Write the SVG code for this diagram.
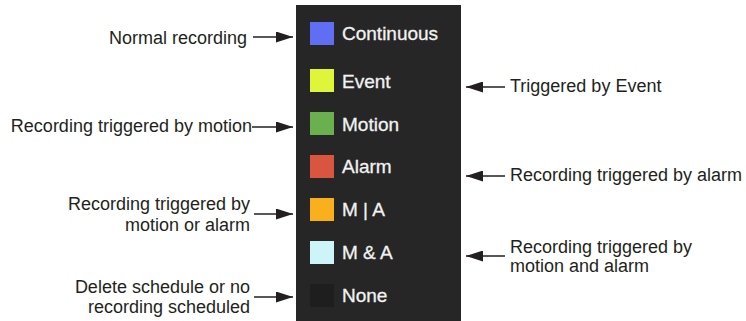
<svg xmlns="http://www.w3.org/2000/svg" width="746" height="321" viewBox="0 0 746 321">
<style>
.lbl{font-family:"Liberation Sans",Arial,sans-serif;font-size:18px;fill:#231f20}
.end{text-anchor:end}
.leg{font-family:"Liberation Sans",Arial,sans-serif;font-size:19px;fill:#f2f2f2;stroke:#f2f2f2;stroke-width:0.3}
.conn line{stroke:#231f20;stroke-width:1.5;marker-end:url(#ah)}
</style>
<defs>
<marker id="ah" markerUnits="userSpaceOnUse" markerWidth="17" markerHeight="11" refX="17" refY="5.5" orient="auto">
<path d="M0,0 L17,5.5 L0,11 Z" fill="#231f20"/>
</marker>
</defs>
<rect x="0" y="0" width="746" height="321" fill="#ffffff"/>
<g id="panel">
<rect x="296" y="5" width="165" height="316" fill="#262626"/>
</g>
<g id="continuous"><rect x="310" y="22" width="24" height="23" fill="#5f6ef2"/><text class="leg" x="342" y="40">Continuous</text></g>
<g id="event"><rect x="310" y="69" width="24" height="23" fill="#dff53a"/><text class="leg" x="342" y="88">Event</text></g>
<g id="motion"><rect x="310" y="112" width="24" height="23" fill="#6ab04e"/><text class="leg" x="342" y="131">Motion</text></g>
<g id="alarm"><rect x="310" y="155" width="24" height="23" fill="#d9553f"/><text class="leg" x="342" y="173">Alarm</text></g>
<g id="m-or-a"><rect x="310" y="198" width="24" height="23" fill="#f9b01c"/><text class="leg" x="342" y="216">M | A</text></g>
<g id="m-and-a"><rect x="310" y="241" width="24" height="23" fill="#cdf4f9"/><text class="leg" x="342" y="259">M &amp; A</text></g>
<g id="none"><rect x="310" y="284" width="24" height="23" fill="#1e1e1e"/><text class="leg" x="342" y="302">None</text></g>
<g id="lbl-normal"><text class="lbl end" x="247" y="44">Normal recording</text></g>
<g id="lbl-motion"><text class="lbl end" x="252" y="132">Recording triggered by motion</text></g>
<g id="lbl-mora"><text class="lbl end" x="250" y="210">Recording triggered by</text><text class="lbl end" x="250" y="231">motion or alarm</text></g>
<g id="lbl-none"><text class="lbl end" x="250" y="293">Delete schedule or no</text><text class="lbl end" x="250" y="313">recording scheduled</text></g>
<g id="lbl-event"><text class="lbl" x="510" y="92">Triggered by Event</text></g>
<g id="lbl-alarm"><text class="lbl" x="510" y="181">Recording triggered by alarm</text></g>
<g id="lbl-manda"><text class="lbl" x="510" y="253">Recording triggered by</text><text class="lbl" x="510" y="272">motion and alarm</text></g>
<g id="connectors" class="conn">
<line x1="253" y1="37" x2="293" y2="37"/>
<line x1="252" y1="127" x2="293" y2="127"/>
<line x1="254" y1="214" x2="293" y2="214"/>
<line x1="254" y1="297" x2="293" y2="297"/>
<line x1="505" y1="87" x2="466" y2="87"/>
<line x1="505" y1="176" x2="466" y2="176"/>
<line x1="505" y1="256" x2="466" y2="256"/>
</g>
</svg>
